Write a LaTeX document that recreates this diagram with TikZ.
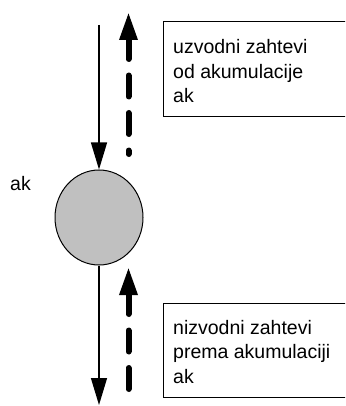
\documentclass[tikz,border=0pt]{standalone}
\usepackage{fontspec}
\setmainfont{Liberation Sans}
\usetikzlibrary{arrows.meta,shapes.geometric}
\definecolor{nodegray}{RGB}{192,192,192}
\tikzset{
  thinarrow/.style={line width=1.3pt,-{Triangle[width=16pt,length=27pt]}},
  demandarrow/.style={line width=6pt,line cap=round,
    dash pattern=on 21pt off 16.5pt,-{Triangle[width=17pt,length=28pt]}},
  notebox/.style={line width=1pt},
  notetext/.style={anchor=base west,inner sep=0pt,font=\fontsize{19.5}{24.5}\selectfont},
}
\begin{document}
\begin{tikzpicture}[x=1pt,y=-1pt]
  \useasboundingbox (0,0) rectangle (345,406);
  \clip (0,0) rectangle (345,406);

  % reservoir node
  \node[ellipse,draw,line width=1pt,fill=nodegray,minimum width=88pt,
        minimum height=95pt,inner sep=0pt] (ak) at (99,217.5) {};
  \node[notetext] (aklabel) at (10,190) {ak};

  % inflow and outflow
  \coordinate (inTop) at (99,25);
  \coordinate (outBottom) at (99,405);
  \draw[thinarrow] (inTop) -- (ak.north);
  \draw[thinarrow] (ak.south) -- (outBottom);

  % demand arrows
  \coordinate (upStart) at (128.5,154);
  \coordinate (upTip) at (128.5,12);
  \coordinate (downStart) at (128.5,389);
  \coordinate (downTip) at (128.5,267);
  \draw[demandarrow,dash phase=17.5pt] (upStart) -- (upTip);
  \draw[demandarrow] (downStart) -- (downTip);

  % notes
  \draw[notebox] (360,22) -- (163,22) -- (163,117) -- (360,117);
  \draw[notebox] (360,303) -- (163,303) -- (163,397) -- (360,397);
  \node[notetext] (upnote) at (173,54)
    {\begin{tabular}[t]{@{}l@{}}uzvodni zahtevi\\od akumulacije\\ak\end{tabular}};
  \node[notetext] (downnote) at (173,334)
    {\begin{tabular}[t]{@{}l@{}}nizvodni zahtevi\\prema akumulaciji\\ak\end{tabular}};
\end{tikzpicture}
\end{document}
